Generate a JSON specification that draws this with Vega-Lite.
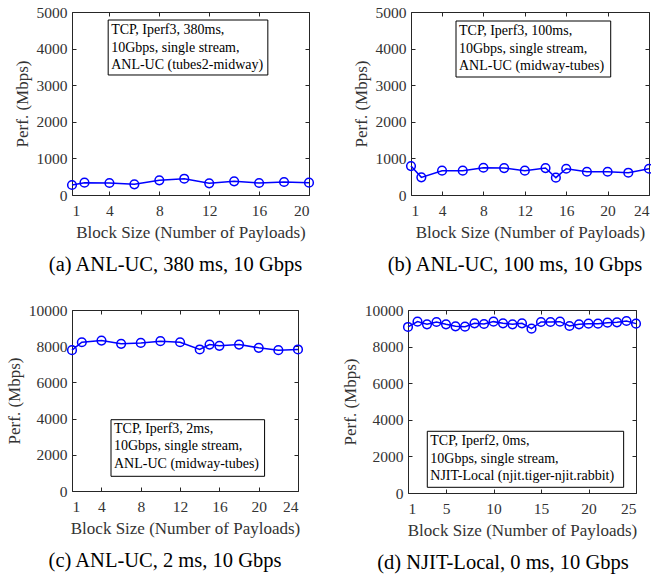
{
  "$schema": "https://vega.github.io/schema/vega-lite/v6.json",
  "background": "white",
  "padding": {"left": 4, "top": 4, "right": 2, "bottom": 0},
  "config": {
    "font": "Liberation Serif",
    "view": {"stroke": "#262626", "strokeWidth": 1},
    "axis": {
      "grid": false,
      "domain": false,
      "tickColor": "#262626",
      "format": "d",
      "labelFont": "Liberation Serif",
      "labelFontSize": 15.5,
      "labelColor": "#333333",
      "titleFont": "Liberation Serif",
      "titleFontSize": 17,
      "titleFontWeight": "normal",
      "titleColor": "#333333",
      "titlePadding": 5
    },
    "title": {"font": "Liberation Serif", "fontSize": 20.5, "fontWeight": "normal", "color": "#000000", "orient": "bottom", "offset": 14},
    "concat": {"spacing": 34}
  },
  "datasets": {
    "one": [{}],
    "a": [
      {"block": 1, "perf": 273}, {"block": 2, "perf": 336}, {"block": 4, "perf": 327}, {"block": 6, "perf": 291},
      {"block": 8, "perf": 400}, {"block": 10, "perf": 445}, {"block": 12, "perf": 318}, {"block": 14, "perf": 373},
      {"block": 16, "perf": 327}, {"block": 18, "perf": 355}, {"block": 20, "perf": 336}
    ],
    "b": [
      {"block": 1, "perf": 791}, {"block": 2, "perf": 482}, {"block": 4, "perf": 664}, {"block": 6, "perf": 664},
      {"block": 8, "perf": 745}, {"block": 10, "perf": 736}, {"block": 12, "perf": 664}, {"block": 14, "perf": 736},
      {"block": 15, "perf": 473}, {"block": 16, "perf": 718}, {"block": 18, "perf": 636}, {"block": 20, "perf": 636},
      {"block": 22, "perf": 609}, {"block": 24, "perf": 718}
    ],
    "c": [
      {"block": 1, "perf": 7780}, {"block": 2, "perf": 8220}, {"block": 4, "perf": 8310}, {"block": 6, "perf": 8130},
      {"block": 8, "perf": 8180}, {"block": 10, "perf": 8280}, {"block": 12, "perf": 8220}, {"block": 14, "perf": 7820},
      {"block": 15, "perf": 8090}, {"block": 16, "perf": 8020}, {"block": 18, "perf": 8090}, {"block": 20, "perf": 7910},
      {"block": 22, "perf": 7780}, {"block": 24, "perf": 7820}
    ],
    "d": [
      {"block": 1, "perf": 9073}, {"block": 2, "perf": 9364}, {"block": 3, "perf": 9218}, {"block": 4, "perf": 9345},
      {"block": 5, "perf": 9218}, {"block": 6, "perf": 9109}, {"block": 7, "perf": 9091}, {"block": 8, "perf": 9273},
      {"block": 9, "perf": 9236}, {"block": 10, "perf": 9364}, {"block": 11, "perf": 9273}, {"block": 12, "perf": 9218},
      {"block": 13, "perf": 9273}, {"block": 14, "perf": 8982}, {"block": 15, "perf": 9345}, {"block": 16, "perf": 9345},
      {"block": 17, "perf": 9364}, {"block": 18, "perf": 9127}, {"block": 19, "perf": 9218}, {"block": 20, "perf": 9255},
      {"block": 21, "perf": 9255}, {"block": 22, "perf": 9309}, {"block": 23, "perf": 9327}, {"block": 24, "perf": 9400},
      {"block": 25, "perf": 9255}
    ]
  },
  "spacing": 26,
  "vconcat": [
    {
      "spacing": 34,
      "hconcat": [
        {
          "width": 237, "height": 183,
          "title": {"text": "(a)  ANL-UC, 380 ms, 10 Gbps", "anchor": "middle", "frame": "group", "dx": -15},
          "resolve": {"axis": {"x": "independent", "y": "independent"}},
          "layer": [
            {
              "data": {"name": "a"},
              "mark": {"type": "line", "color": "#0000ff", "strokeWidth": 1.5},
              "encoding": {
                "x": {"field": "block", "type": "quantitative", "scale": {"domain": [1, 20], "nice": false, "zero": false}, "axis": {"values": [1, 4, 8, 12, 16, 20], "title": "Block Size (Number of Payloads)", "tickSize": -4, "labelPadding": 12, "titlePadding": 6}},
                "y": {"field": "perf", "type": "quantitative", "scale": {"domain": [0, 5000], "nice": false}, "axis": {"values": [0, 1000, 2000, 3000, 4000, 5000], "title": "Perf. (Mbps)", "tickSize": -4, "labelPadding": 9}}
              }
            },
            {
              "data": {"name": "a"},
              "mark": {"type": "point", "shape": "circle", "filled": false, "color": "#0000ff", "size": 75, "strokeWidth": 1.5, "opacity": 1},
              "encoding": {
                "x": {"field": "block", "type": "quantitative", "axis": {"orient": "top", "values": [1, 4, 8, 12, 16, 20], "labels": false, "title": null, "tickSize": -4}},
                "y": {"field": "perf", "type": "quantitative", "axis": {"orient": "right", "values": [0, 1000, 2000, 3000, 4000, 5000], "labels": false, "title": null, "tickSize": -4}}
              }
            },
            {
              "data": {"name": "one"},
              "mark": {"type": "rect", "fill": "white", "stroke": "#000000", "strokeWidth": 1},
              "encoding": {"x": {"datum": 3.9, "axis": null}, "x2": {"datum": 16.7}, "y": {"datum": 4781, "axis": null}, "y2": {"datum": 3279}}
            },
            {
              "data": {"name": "one"},
              "mark": {"type": "text", "align": "left", "baseline": "top", "fontSize": 14, "lineHeight": 17.5, "lineBreak": "\n", "dx": 3, "dy": 3, "color": "#000000"},
              "encoding": {"x": {"datum": 3.9, "axis": null}, "y": {"datum": 4781, "axis": null}, "text": {"value": "TCP, Iperf3, 380ms,\n10Gbps, single stream,\nANL-UC (tubes2-midway)"}}
            }
          ]
        },
        {
          "width": 238, "height": 183,
          "title": {"text": "(b)  ANL-UC, 100 ms, 10 Gbps", "anchor": "middle", "frame": "group", "dx": -15},
          "resolve": {"axis": {"x": "independent", "y": "independent"}},
          "layer": [
            {
              "data": {"name": "b"},
              "mark": {"type": "line", "color": "#0000ff", "strokeWidth": 1.5},
              "encoding": {
                "x": {"field": "block", "type": "quantitative", "scale": {"domain": [1, 24], "nice": false, "zero": false}, "axis": {"values": [1, 4, 8, 12, 16, 20, 24], "title": "Block Size (Number of Payloads)", "tickSize": -4, "labelPadding": 12, "titlePadding": 6}},
                "y": {"field": "perf", "type": "quantitative", "scale": {"domain": [0, 5000], "nice": false}, "axis": {"values": [0, 1000, 2000, 3000, 4000, 5000], "title": "Perf. (Mbps)", "tickSize": -4, "labelPadding": 9}}
              }
            },
            {
              "data": {"name": "b"},
              "mark": {"type": "point", "shape": "circle", "filled": false, "color": "#0000ff", "size": 75, "strokeWidth": 1.5, "opacity": 1},
              "encoding": {
                "x": {"field": "block", "type": "quantitative", "axis": {"orient": "top", "values": [1, 4, 8, 12, 16, 20, 24], "labels": false, "title": null, "tickSize": -4}},
                "y": {"field": "perf", "type": "quantitative", "axis": {"orient": "right", "values": [0, 1000, 2000, 3000, 4000, 5000], "labels": false, "title": null, "tickSize": -4}}
              }
            },
            {
              "data": {"name": "one"},
              "mark": {"type": "rect", "fill": "white", "stroke": "#000000", "strokeWidth": 1},
              "encoding": {"x": {"datum": 5.35, "axis": null}, "x2": {"datum": 20.3}, "y": {"datum": 4754, "axis": null}, "y2": {"datum": 3224}}
            },
            {
              "data": {"name": "one"},
              "mark": {"type": "text", "align": "left", "baseline": "top", "fontSize": 14, "lineHeight": 17.5, "lineBreak": "\n", "dx": 3, "dy": 3, "color": "#000000"},
              "encoding": {"x": {"datum": 5.35, "axis": null}, "y": {"datum": 4754, "axis": null}, "text": {"value": "TCP, Iperf3, 100ms,\n10Gbps, single stream,\nANL-UC (midway-tubes)"}}
            }
          ]
        }
      ]
    },
    {
      "spacing": 34,
      "hconcat": [
        {
          "width": 226, "height": 181,
          "title": {"text": "(c)  ANL-UC, 2 ms, 10 Gbps", "anchor": "middle", "frame": "group", "dx": -20},
          "resolve": {"axis": {"x": "independent", "y": "independent"}},
          "layer": [
            {
              "data": {"name": "c"},
              "mark": {"type": "line", "color": "#0000ff", "strokeWidth": 1.5},
              "encoding": {
                "x": {"field": "block", "type": "quantitative", "scale": {"domain": [1, 24], "nice": false, "zero": false}, "axis": {"values": [1, 4, 8, 12, 16, 20, 24], "title": "Block Size (Number of Payloads)", "tickSize": -4, "labelPadding": 12, "titlePadding": 6}},
                "y": {"field": "perf", "type": "quantitative", "scale": {"domain": [0, 10000], "nice": false}, "axis": {"values": [0, 2000, 4000, 6000, 8000, 10000], "title": "Perf. (Mbps)", "tickSize": -4, "labelPadding": 9}}
              }
            },
            {
              "data": {"name": "c"},
              "mark": {"type": "point", "shape": "circle", "filled": false, "color": "#0000ff", "size": 75, "strokeWidth": 1.5, "opacity": 1},
              "encoding": {
                "x": {"field": "block", "type": "quantitative", "axis": {"orient": "top", "values": [1, 4, 8, 12, 16, 20, 24], "labels": false, "title": null, "tickSize": -4}},
                "y": {"field": "perf", "type": "quantitative", "axis": {"orient": "right", "values": [0, 2000, 4000, 6000, 8000, 10000], "labels": false, "title": null, "tickSize": -4}}
              }
            },
            {
              "data": {"name": "one"},
              "mark": {"type": "rect", "fill": "white", "stroke": "#000000", "strokeWidth": 1},
              "encoding": {"x": {"datum": 4.97, "axis": null}, "x2": {"datum": 20.6}, "y": {"datum": 3939, "axis": null}, "y2": {"datum": 812}}
            },
            {
              "data": {"name": "one"},
              "mark": {"type": "text", "align": "left", "baseline": "top", "fontSize": 14, "lineHeight": 17.5, "lineBreak": "\n", "dx": 3, "dy": 2, "color": "#000000"},
              "encoding": {"x": {"datum": 4.97, "axis": null}, "y": {"datum": 3939, "axis": null}, "text": {"value": "TCP, Iperf3, 2ms,\n10Gbps, single stream,\nANL-UC (midway-tubes)"}}
            }
          ]
        },
        {
          "width": 228, "height": 183,
          "title": {"text": "(d)  NJIT-Local, 0 ms, 10 Gbps", "anchor": "middle", "frame": "group", "dx": -19},
          "resolve": {"axis": {"x": "independent", "y": "independent"}},
          "layer": [
            {
              "data": {"name": "d"},
              "mark": {"type": "line", "color": "#0000ff", "strokeWidth": 1.5},
              "encoding": {
                "x": {"field": "block", "type": "quantitative", "scale": {"domain": [1, 25], "nice": false, "zero": false}, "axis": {"values": [1, 5, 10, 15, 20, 25], "title": "Block Size (Number of Payloads)", "tickSize": -4, "labelPadding": 12, "titlePadding": 6}},
                "y": {"field": "perf", "type": "quantitative", "scale": {"domain": [0, 10000], "nice": false}, "axis": {"values": [0, 2000, 4000, 6000, 8000, 10000], "title": "Perf. (Mbps)", "tickSize": -4, "labelPadding": 9}}
              }
            },
            {
              "data": {"name": "d"},
              "mark": {"type": "point", "shape": "circle", "filled": false, "color": "#0000ff", "size": 75, "strokeWidth": 1.5, "opacity": 1},
              "encoding": {
                "x": {"field": "block", "type": "quantitative", "axis": {"orient": "top", "values": [1, 5, 10, 15, 20, 25], "labels": false, "title": null, "tickSize": -4}},
                "y": {"field": "perf", "type": "quantitative", "axis": {"orient": "right", "values": [0, 2000, 4000, 6000, 8000, 10000], "labels": false, "title": null, "tickSize": -4}}
              }
            },
            {
              "data": {"name": "one"},
              "mark": {"type": "rect", "fill": "white", "stroke": "#000000", "strokeWidth": 1},
              "encoding": {"x": {"datum": 3.03, "axis": null}, "x2": {"datum": 23.7}, "y": {"datum": 3372, "axis": null}, "y2": {"datum": 311}}
            },
            {
              "data": {"name": "one"},
              "mark": {"type": "text", "align": "left", "baseline": "top", "fontSize": 14, "lineHeight": 17.5, "lineBreak": "\n", "dx": 3, "dy": 3, "color": "#000000"},
              "encoding": {"x": {"datum": 3.03, "axis": null}, "y": {"datum": 3372, "axis": null}, "text": {"value": "TCP, Iperf2, 0ms,\n10Gbps, single stream,\nNJIT-Local (njit.tiger-njit.rabbit)"}}
            }
          ]
        }
      ]
    }
  ]
}
